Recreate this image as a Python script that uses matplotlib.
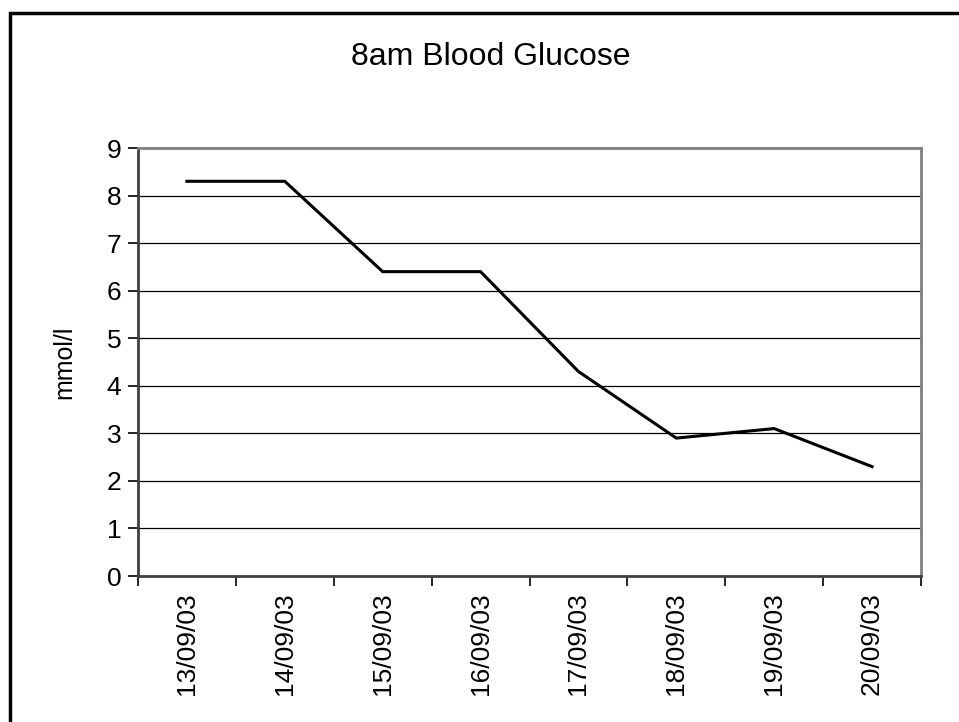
import matplotlib.pyplot as plt
from matplotlib.patches import Rectangle

plt.rcParams["font.family"] = ["Liberation Sans", "DejaVu Sans"]

DATES = ["13/09/03", "14/09/03", "15/09/03", "16/09/03",
         "17/09/03", "18/09/03", "19/09/03", "20/09/03"]
GLUCOSE = [8.3, 8.3, 6.4, 6.4, 4.3, 2.9, 3.1, 2.3]
Y_TICKS = list(range(0, 10))

W, H = 959, 722
fig = plt.figure(figsize=(W / 100, H / 100), dpi=100)

# outer chart border (cropped at right and bottom in the original)
fig.add_artist(Rectangle((10 / W, -0.1), 1.2, 1 - 13 / H + 0.1,
                         transform=fig.transFigure, fill=False,
                         edgecolor="black", linewidth=2.5))

ax = fig.add_axes([138 / W, 1 - 576 / H, (921 - 138) / W, (576 - 148) / H])

x = [i + 0.5 for i in range(len(DATES))]
ax.plot(x, GLUCOSE, color="black", linewidth=2.2, solid_joinstyle="miter", zorder=3)

ax.set_xlim(0, len(DATES))
ax.set_ylim(0, 9)
ax.set_yticks(Y_TICKS)
ax.set_yticklabels([str(v) for v in Y_TICKS], fontsize=19)
ax.yaxis.grid(True, color="black", linewidth=0.9)
ax.set_axisbelow(True)

ax.set_xticks(range(len(DATES) + 1))
ax.set_xticklabels([])
ax.set_xticks(x, minor=True)
ax.set_xticklabels(DATES, minor=True, rotation=90, fontsize=19)
ax.tick_params(axis="x", which="minor", length=0, pad=12)
ax.tick_params(axis="x", which="major", length=7, width=1.2, direction="out")
ax.tick_params(axis="y", length=7, width=1.2, direction="out", pad=5)

for side in ("left", "bottom"):
    ax.spines[side].set_color("#404040")
    ax.spines[side].set_linewidth(2)
for side in ("top", "right"):
    ax.spines[side].set_color("#808080")
    ax.spines[side].set_linewidth(2)

fig.text(64 / W, 1 - 362 / H, "mmol/l", rotation=90, ha="center", va="center", fontsize=18)
fig.text(0.512, 1 - 65 / H, "8am Blood Glucose", ha="center", va="baseline", fontsize=23)

fig.savefig("out.png", dpi=100)
